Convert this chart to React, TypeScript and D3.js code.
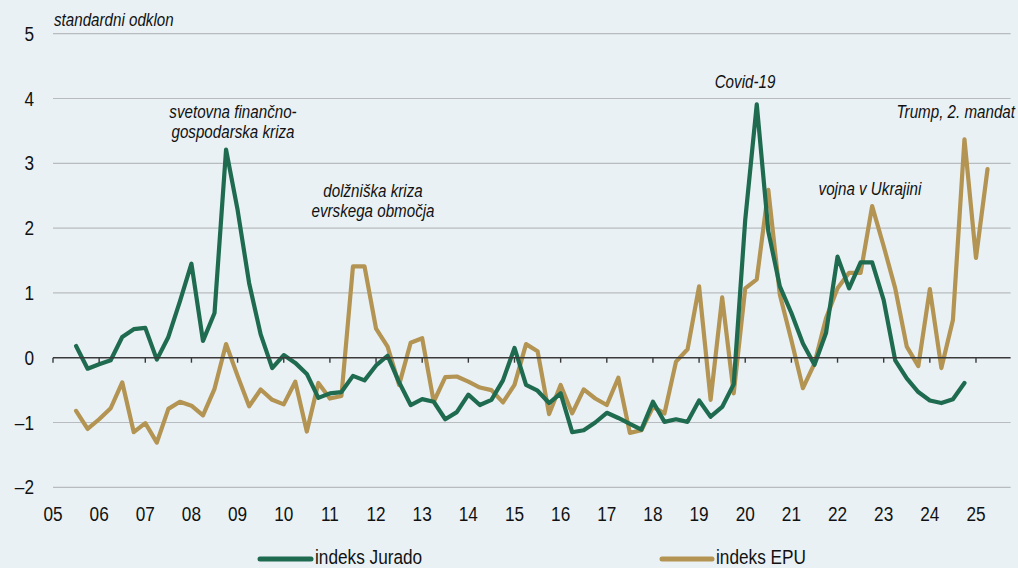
import React from "react";
import * as d3 from "d3";

// Quarterly observations starting 2005 Q3
const START_YEAR = 2005;
const START_QUARTER = 3;

const jurado: number[] = [
  0.18, -0.17, -0.10, -0.04, 0.32, 0.44, 0.46, -0.03, 0.32, 0.87,
  1.45, 0.26, 0.69, 3.21, 2.28, 1.15, 0.36, -0.16, 0.04, -0.08,
  -0.25, -0.62, -0.55, -0.53, -0.28, -0.35, -0.12, 0.03, -0.38, -0.73,
  -0.64, -0.68, -0.95, -0.84, -0.57, -0.73, -0.65, -0.35, 0.15, -0.42,
  -0.51, -0.70, -0.55, -1.15, -1.12, -1.00, -0.85, -0.93, -1.02, -1.11,
  -0.68, -0.99, -0.95, -0.99, -0.66, -0.91, -0.76, -0.41, 2.13, 3.91,
  1.95, 1.10, 0.69, 0.22, -0.11, 0.38, 1.56, 1.07, 1.47, 1.47,
  0.89, -0.04, -0.32, -0.53, -0.66, -0.70, -0.64, -0.39,
];

const epu: number[] = [
  -0.82, -1.10, -0.95, -0.78, -0.38, -1.15, -1.01, -1.31, -0.79, -0.68,
  -0.74, -0.89, -0.48, 0.21, -0.28, -0.75, -0.49, -0.65, -0.72, -0.37,
  -1.14, -0.39, -0.63, -0.59, 1.41, 1.41, 0.45, 0.17, -0.42, 0.23,
  0.30, -0.68, -0.30, -0.29, -0.37, -0.46, -0.50, -0.69, -0.42, 0.21,
  0.10, -0.87, -0.42, -0.86, -0.49, -0.63, -0.73, -0.31, -1.16, -1.12,
  -0.76, -0.86, -0.06, 0.13, 1.10, -0.65, 0.93, -0.55, 1.07, 1.21,
  2.59, 0.97, 0.27, -0.47, -0.09, 0.61, 1.07, 1.31, 1.31, 2.34,
  1.72, 1.07, 0.17, -0.13, 1.06, -0.16, 0.58, 3.37, 1.54, 2.91,
];

const yearTicks: string[] = [
  "05", "06", "07", "08", "09", "10", "11", "12", "13", "14", "15",
  "16", "17", "18", "19", "20", "21", "22", "23", "24", "25",
];
const yTicks: number[] = [-2, -1, 0, 1, 2, 3, 4, 5];
const seriesNames: string[] = ["indeks Jurado", "indeks EPU"];

const annotations = [
  { lines: ["svetovna finančno-", "gospodarska kriza"], x: 233, y: 118, anchor: "middle" },
  { lines: ["dolžniška kriza", "evrskega območja"], x: 373, y: 197, anchor: "middle" },
  { lines: ["Covid-19"], x: 745, y: 88, anchor: "middle" },
  { lines: ["Trump, 2. mandat"], x: 1015, y: 118, anchor: "end" },
  { lines: ["vojna v Ukrajini"], x: 870, y: 195, anchor: "middle" },
];

const GREEN = "#1f6b50";
const GOLD = "#b39452";
const BG = "#e9f1f5";
const FONT = "'Liberation Sans', Arial, sans-serif";

function quarterTime(i: number): number {
  return START_YEAR + (START_QUARTER - 1) / 4 + i * 0.25;
}

type NTProps = {
  x: number;
  y: number;
  size: number;
  sx: number;
  anchor?: string;
  italic?: boolean;
  dy?: string;
  lines: string[];
  lineGap?: number;
};

// Condensed text (narrow face emulated by horizontal scaling)
function NText({ x, y, size, sx, anchor = "start", italic = false, dy, lines, lineGap = 20 }: NTProps) {
  return (
    <text
      transform={`translate(${x},${y}) scale(${sx},1)`}
      textAnchor={anchor as any}
      fontSize={size}
      fontStyle={italic ? "italic" : "normal"}
      fill="#111"
      dy={dy}
    >
      {lines.map((l, j) => (
        <tspan key={j} x={0} dy={j === 0 ? dy || 0 : lineGap}>
          {l}
        </tspan>
      ))}
    </text>
  );
}

export default function App() {
  const W = 1018;
  const H = 568;
  const x = d3.scaleLinear().domain([2005, 2025.75]).range([53, 1010.6]);
  const y = d3.scaleLinear().domain([-2, 5]).range([487.3, 33.7]);

  const line = d3
    .line<number>()
    .x((_, i) => x(quarterTime(i)))
    .y((d) => y(d));

  const years = yearTicks.map((_, i) => 2005 + i);
  const TICK_SIZE = 20.5;
  const TICK_SX = 0.84;
  const IT_SIZE = 18.5;
  const IT_SX = 0.82;

  return (
    <svg
      width={W}
      height={H}
      style={{ position: "absolute", left: 0, top: 0, display: "block" }}
      fontFamily={FONT}
    >
      <rect x={0} y={0} width={W} height={H} fill={BG} />
      {/* gridlines */}
      {yTicks.filter((t) => t !== 0).map((t) => (
        <line
          key={t}
          x1={x(2005)}
          x2={x(2025.75)}
          y1={y(t)}
          y2={y(t)}
          stroke="#b9bcbe"
          strokeWidth={1.2}
        />
      ))}
      {/* y labels */}
      {yTicks.map((t) => (
        <NText
          key={"yl" + t}
          x={34}
          y={y(t) + 7}
          size={TICK_SIZE}
          sx={TICK_SX}
          anchor="end"
          lines={[t < 0 ? "\u2013" + Math.abs(t) : String(t)]}
        />
      ))}
      {/* x labels */}
      {years.map((yr, i) => (
        <NText
          key={"xl" + yr}
          x={x(yr)}
          y={521}
          size={TICK_SIZE}
          sx={TICK_SX}
          anchor="middle"
          lines={[yearTicks[i]]}
        />
      ))}
      {/* series */}
      <path
        d={line(epu) || ""}
        fill="none"
        stroke={GOLD}
        strokeWidth={4.2}
        strokeLinejoin="round"
        strokeLinecap="round"
      />
      <path
        d={line(jurado) || ""}
        fill="none"
        stroke={GREEN}
        strokeWidth={4.2}
        strokeLinejoin="round"
        strokeLinecap="round"
      />
      {/* zero axis with ticks */}
      <line x1={x(2005)} x2={x(2025.75)} y1={y(0)} y2={y(0)} stroke="#3a3a3a" strokeWidth={1.6} />
      {years.map((yr) => (
        <line
          key={"tk" + yr}
          x1={x(yr)}
          x2={x(yr)}
          y1={y(0)}
          y2={y(0) + 5}
          stroke="#3a3a3a"
          strokeWidth={1.4}
        />
      ))}
      {/* unit label */}
      <NText x={54} y={26} size={IT_SIZE} sx={IT_SX} italic lines={["standardni odklon"]} />
      {/* annotations */}
      {annotations.map((a, k) => (
        <NText
          key={"an" + k}
          x={a.x}
          y={a.y}
          size={IT_SIZE}
          sx={IT_SX}
          italic
          anchor={a.anchor}
          lines={a.lines}
          lineGap={20.5}
        />
      ))}
      {/* legend */}
      <line x1={260} x2={311} y1={559} y2={559} stroke={GREEN} strokeWidth={5} strokeLinecap="round" />
      <NText x={315} y={564} size={TICK_SIZE} sx={TICK_SX} lines={[seriesNames[0]]} />
      <line x1={662} x2={712} y1={559} y2={559} stroke={GOLD} strokeWidth={5} strokeLinecap="round" />
      <NText x={716} y={564} size={TICK_SIZE} sx={TICK_SX} lines={[seriesNames[1]]} />
    </svg>
  );
}
